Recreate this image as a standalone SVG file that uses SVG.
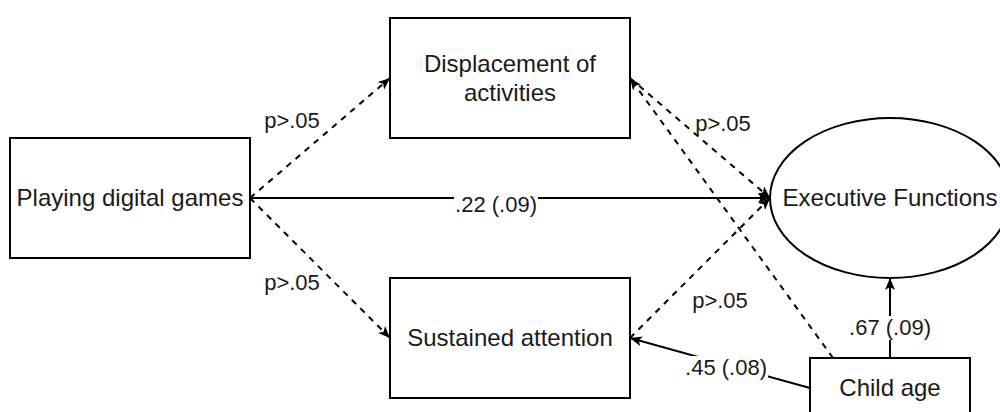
<svg xmlns="http://www.w3.org/2000/svg" width="1000" height="412" viewBox="0 0 1000 412">
<style>
.box{fill:#fff;stroke:#000;stroke-width:2}
.t{font-family:"Liberation Sans",Arial,sans-serif;font-size:24px;fill:#1a1a1a;text-anchor:middle}
.l{font-family:"Liberation Sans",Arial,sans-serif;font-size:22px;fill:#1a1a1a;text-anchor:middle}
.e{fill:none;stroke:#000;stroke-width:2}
.d{stroke-dasharray:6 6}
.bg{fill:#fff}
</style>
<defs>
<marker id="ah" viewBox="0 0 12 10" refX="12" refY="5" markerWidth="12" markerHeight="10" markerUnits="userSpaceOnUse" orient="auto">
<path d="M0,0 L12,5 L0,10 L3,5 Z" fill="#000" stroke="none"/>
</marker>
</defs>
<g id="connectors">
<line class="e d" x1="250" y1="198" x2="390" y2="78" marker-end="url(#ah)"/>
<line class="e d" x1="250" y1="198" x2="390" y2="338" marker-end="url(#ah)"/>
<line class="e" x1="250" y1="198" x2="770" y2="198" marker-end="url(#ah)"/>
<line class="e d" x1="630" y1="78" x2="770" y2="198" marker-end="url(#ah)"/>
<line class="e d" x1="630" y1="338" x2="770" y2="198" marker-end="url(#ah)"/>
<line class="e d" x1="833" y1="358" x2="630" y2="78" marker-end="url(#ah)"/>
<line class="e" x1="890" y1="358" x2="890" y2="278" marker-end="url(#ah)"/>
<line class="e" x1="810" y1="388" x2="630" y2="338" marker-end="url(#ah)"/>
<rect class="bg" x="454" y="194" width="84" height="24"/>
<text class="l" x="496" y="212">.22 (.09)</text>
<rect class="bg" x="849" y="316" width="82" height="24"/>
<text class="l" x="890" y="335">.67 (.09)</text>
<rect class="bg" x="684" y="356" width="84" height="24"/>
<text class="l" x="726" y="375">.45 (.08)</text>
<text class="l" x="292" y="128">p&gt;.05</text>
<text class="l" x="292" y="290">p&gt;.05</text>
<text class="l" x="723" y="131">p&gt;.05</text>
<text class="l" x="720" y="308">p&gt;.05</text>
</g>
<g id="playing">
<rect class="box" x="10" y="138" width="240" height="120"/>
<text class="t" x="130" y="206">Playing digital games</text>
</g>
<g id="displacement">
<rect class="box" x="390" y="18" width="240" height="120"/>
<text class="t" x="510" y="72">Displacement of</text>
<text class="t" x="510" y="101">activities</text>
</g>
<g id="sustained">
<rect class="box" x="390" y="278" width="240" height="120"/>
<text class="t" x="510" y="346">Sustained attention</text>
</g>
<g id="executive">
<ellipse class="box" cx="890" cy="198" rx="120" ry="80"/>
<text class="t" x="890" y="206">Executive Functions</text>
</g>
<g id="childage">
<rect class="box" x="810" y="358" width="160" height="60"/>
<text class="t" x="890" y="396">Child age</text>
</g>
</svg>
